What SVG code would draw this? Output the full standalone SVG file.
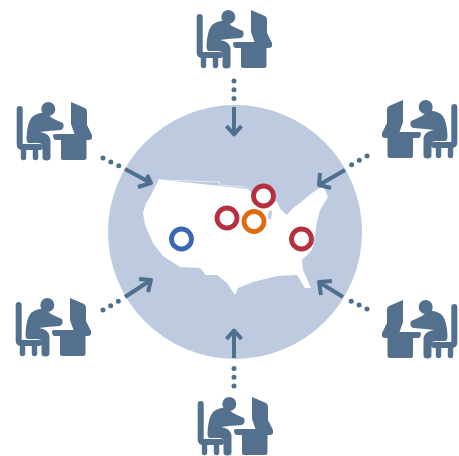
<svg xmlns="http://www.w3.org/2000/svg" width="459" height="456" viewBox="0 0 459 456">
<style>
.i{fill:#52708f}
.il{fill:none;stroke:#52708f;stroke-linecap:round;stroke-linejoin:round}
.a{fill:none;stroke:#4f6f8f;stroke-width:4;stroke-linecap:butt;stroke-linejoin:round}
.d{fill:none;stroke:#4f6f8f;stroke-width:5;stroke-linecap:round;stroke-dasharray:0 8.8}
.r{fill:#fff;stroke-width:4.8}
</style>
<defs>
<filter id="soft" x="-10%" y="-10%" width="120%" height="120%"><feGaussianBlur stdDeviation="0.45"/></filter>
<g id="person" filter="url(#soft)">
<path class="il" stroke-width="6" d="M199.700 17V53Q199.700 55 203 55H220"/>
<path class="il" stroke-width="5.400" d="M203.500 57V65.500M215.500 57V65.500"/>
<circle class="i" cx="228.300" cy="17" r="7"/>
<path class="i" d="M206.500 46Q207 31 212 25Q219 20 226 21L232 26Q238 29 243 31Q245 36 241 38L228 39L220 40Q229 41 230.500 48V65.500Q230.500 68.500 226.500 68.500Q222.500 68.500 222.500 65.500V54Q222 51 218 51H209Q206.500 51 206.500 46Z"/>
<path class="i" d="M233 43Q233 42 236 42H254.500L251 32V10L265 16Q267 17 267 20V33L272 43V46Q272 48 266.500 48V66Q266.500 68 264 68H243Q241 68 241 66V48H236Q233 48 233 43Z"/>
</g>
</defs>
<g id="globe"><circle cx="235" cy="232" r="127" fill="#bdcadf"/></g>
<g id="map">
<path fill="#fff" filter="url(#soft)" d="M159 179L165 180L192 183L220 186L248 189L252 193L260 198L277 202L281 210L287 215L293 208L300 203L312 193L323 186L328 197L320 210L317 222L315 235L312 250L302 260L303 270L311 288L305 288L297 275L277 276L253 282L238 288L235 295L227 283L217 275L206 275L200 268L180 267L163 256L153 243L145 225L143 213L146 203L150 197Z"/>
<path fill="none" stroke="#e4e9f1" stroke-width="1.200" d="M165 180L219 182L220 185L247 187"/>
<path fill="#c3ccdc" d="M269 211q3-2 3 2l-1 6q-3 1-3-3Z"/>
</g>
<g id="connectors">
<path class="d" d="M234 81V99"/>
<path class="a" d="M234 107V134M226.500 126L234 134.500L241.500 126"/>
<path class="d" d="M103 158L119 166"/>
<path class="a" d="M125 169L151 183M138 187L151 183L147 175"/>
<path class="d" d="M367 156L351 165"/>
<path class="a" d="M345 170L319 185M320 173L319 185L331 188"/>
<path class="d" d="M103 310L119 301"/>
<path class="a" d="M125 297L151 280M139 279L151 280L148 292"/>
<path class="d" d="M367 309L351 301"/>
<path class="a" d="M343 297L319 282M321 295L319 282L332 281"/>
<path class="d" d="M234 386V368"/>
<path class="a" d="M234 358V331M226.500 339L234 330.500L241.500 339"/>
</g>
<g id="person-top"><use href="#person"/></g>
<g id="person-left-top"><use href="#person" transform="translate(-180 92)"/></g>
<g id="person-right-top"><use href="#person" transform="translate(654 90) scale(-1 1)"/></g>
<g id="person-left-bottom"><use href="#person" transform="translate(-181 288)"/></g>
<g id="person-right-bottom"><use href="#person" transform="translate(654 290) scale(-1 1)"/></g>
<g id="person-bottom"><use href="#person" transform="translate(1 387)"/></g>
<g id="marker-blue"><circle class="r" stroke="#3b68b4" cx="181.500" cy="239" r="10"/></g>
<g id="marker-red-1"><circle class="r" stroke="#b52f3f" cx="227" cy="218" r="10"/></g>
<g id="marker-red-2"><circle class="r" stroke="#b52f3f" cx="263.500" cy="196" r="10"/></g>
<g id="marker-orange"><circle class="r" stroke="#e06c12" cx="254" cy="221.500" r="10"/></g>
<g id="marker-red-3"><circle class="r" stroke="#b52f3f" cx="301.500" cy="239" r="10"/></g>
</svg>
